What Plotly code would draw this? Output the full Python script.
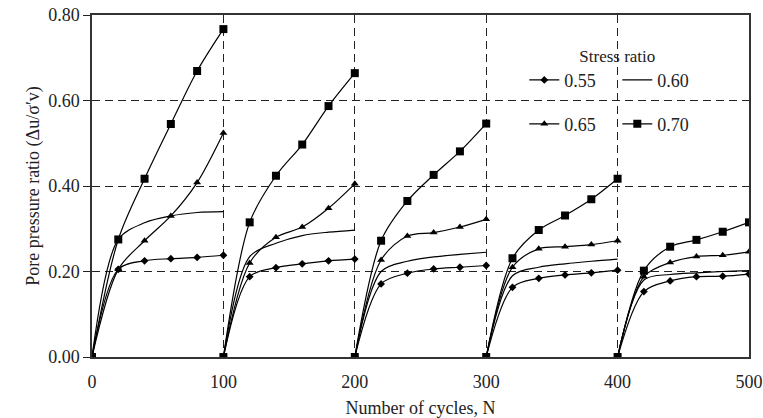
import plotly.graph_objects as go

# Cyclic loading stages: each stage restarts the count of 100 cycles
stage_start = [0, 100, 200, 300, 400]
stage_cycles = [0, 20, 40, 60, 80, 100]

# Pore pressure ratio (du/sigma'v) per stage for each stress ratio
ru_055 = [
    [0, 0.205, 0.225, 0.230, 0.233, 0.238],
    [0, 0.188, 0.209, 0.218, 0.225, 0.229],
    [0, 0.171, 0.196, 0.206, 0.210, 0.214],
    [0, 0.163, 0.184, 0.192, 0.197, 0.203],
    [0, 0.153, 0.178, 0.188, 0.189, 0.194],
]
ru_060 = [
    [0, 0.275, 0.314, 0.330, 0.338, 0.340],
    [0, 0.235, 0.266, 0.284, 0.292, 0.297],
    [0, 0.200, 0.224, 0.234, 0.240, 0.245],
    [0, 0.190, 0.210, 0.218, 0.224, 0.229],
    [0, 0.180, 0.193, 0.197, 0.200, 0.202],
]
ru_065 = [
    [0, 0.205, 0.272, 0.330, 0.408, 0.524],
    [0, 0.220, 0.280, 0.304, 0.348, 0.405],
    [0, 0.227, 0.283, 0.291, 0.304, 0.322],
    [0, 0.210, 0.253, 0.258, 0.263, 0.272],
    [0, 0.188, 0.221, 0.235, 0.238, 0.246],
]
ru_070 = [
    [0, 0.275, 0.417, 0.545, 0.669, 0.767],
    [0, 0.315, 0.424, 0.497, 0.587, 0.664],
    [0, 0.272, 0.365, 0.426, 0.481, 0.546],
    [0, 0.231, 0.297, 0.331, 0.369, 0.417],
    [0, 0.202, 0.258, 0.274, 0.293, 0.315],
]

x_ticks = [0, 100, 200, 300, 400, 500]
y_ticks = [0.0, 0.2, 0.4, 0.6, 0.8]

FONT = "Liberation Serif, Times New Roman, serif"


def staged(values):
    """Join the stages into one series, broken between stages."""
    xs, ys = [], []
    for start, stage in zip(stage_start, values):
        xs += [start + c for c in stage_cycles] + [None]
        ys += list(stage) + [None]
    return xs, ys


series = [
    ("0.55", ru_055, "lines+markers", dict(symbol="diamond", size=6), "legend"),
    ("0.60", ru_060, "lines", None, "legend"),
    ("0.65", ru_065, "lines+markers", dict(symbol="triangle-up", size=7), "legend2"),
    ("0.70", ru_070, "lines+markers", dict(symbol="square", size=8), "legend2"),
]

fig = go.Figure()
for name, vals, mode, marker, leg in series:
    xs, ys = staged(vals)
    kw = dict(marker=dict(color="black", **marker)) if marker else {}
    fig.add_trace(go.Scatter(
        x=xs, y=ys, name=name, mode=mode, connectgaps=False,
        line=dict(color="black", width=1.2, shape="spline", smoothing=0.9),
        legend=leg, **kw,
    ))

# white backing behind the legend block, hiding the grid there
fig.add_shape(type="rect", xref="paper", yref="paper",
              x0=0.654, x1=0.936, y0=0.625, y1=0.947,
              fillcolor="white", line_width=0, layer="between")

fig.update_layout(
    width=763, height=418,
    margin=dict(l=92, r=14, t=15, b=61),
    paper_bgcolor="white", plot_bgcolor="white",
    font=dict(family=FONT, size=18, color="#222"),
    showlegend=True,
    legend=dict(
        orientation="h", x=0.658, y=0.928, xanchor="left", yanchor="top",
        bgcolor="rgba(0,0,0,0)", borderwidth=0, entrywidth=48,
        font=dict(size=18), tracegroupgap=0,
        title=dict(text="Stress ratio", side="top center", font=dict(size=17)),
    ),
    legend2=dict(
        orientation="h", x=0.658, y=0.735, xanchor="left", yanchor="top",
        bgcolor="rgba(0,0,0,0)", borderwidth=0, entrywidth=48,
        font=dict(size=18), tracegroupgap=0,
    ),
)

fig.update_xaxes(
    range=[0, 500], tickvals=x_ticks, automargin=False,
    ticks="outside", ticklen=8, tickcolor="rgba(0,0,0,0)",
    showline=True, linecolor="#333", linewidth=1.5, mirror=True,
    showgrid=True, gridcolor="#222", gridwidth=1.3, griddash="8px,5px",
    zeroline=False,
    title=dict(text="Number of cycles, N", font=dict(size=18), standoff=10),
    tickfont=dict(size=18),
)
fig.update_yaxes(
    range=[0, 0.8], tickvals=y_ticks, tickformat=".2f", automargin=False,
    ticks="outside", ticklen=7, tickcolor="#222",
    showline=True, linecolor="#333", linewidth=1.5, mirror=True,
    showgrid=True, gridcolor="#222", gridwidth=1.3, griddash="8px,5px",
    zeroline=False,
    title=dict(text="Pore pressure ratio (\u0394u/\u03c3\u2032v)", font=dict(size=18), standoff=4),
    tickfont=dict(size=18),
)

fig.write_html("out.html")
